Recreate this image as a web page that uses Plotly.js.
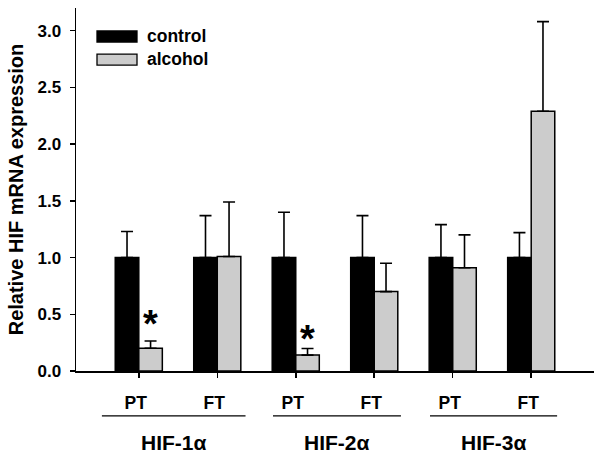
<!DOCTYPE html>
<html>
<head>
<meta charset="utf-8">
<script src="https://cdn.plot.ly/plotly-3.0.1.min.js"></script>
<style>html,body{margin:0;padding:0;background:#fff;}#chart{width:601px;height:461px;}</style>
</head>
<body>
<div id="chart"></div>
<script>
// ---- data ----
var tissueLabels = ["PT", "FT", "PT", "FT", "PT", "FT"];
var geneGroups = ["HIF-1α", "HIF-2α", "HIF-3α"];
var seriesNames = ["control", "alcohol"];
var controlValues = [1.00, 1.00, 1.00, 1.00, 1.00, 1.00];
var controlErr = [0.23, 0.37, 0.40, 0.37, 0.29, 0.22];
var alcoholValues = [0.20, 1.01, 0.14, 0.70, 0.91, 2.29];
var alcoholErr = [0.065, 0.48, 0.058, 0.25, 0.29, 0.79];
var significant = [true, false, true, false, false, false];
var yTicks = [0, 0.5, 1.0, 1.5, 2.0, 2.5, 3.0];

// ---- chart ----
var xIdx = tissueLabels.map(function (_, i) { return i; });
var FONT = "Liberation Sans, Arial, sans-serif";
var zeros = xIdx.map(function () { return 0; });

var traces = [
  {
    type: "bar", name: seriesNames[0], x: xIdx, y: controlValues,
    marker: {color: "#000000", line: {color: "#000000", width: 1.5}},
    error_y: {type: "data", array: controlErr, arrayminus: zeros, symmetric: false,
              color: "#000000", thickness: 1.6, width: 6},
    showlegend: false
  },
  {
    type: "bar", name: seriesNames[1], x: xIdx, y: alcoholValues,
    marker: {color: "#cccccc", line: {color: "#000000", width: 1.5}},
    error_y: {type: "data", array: alcoholErr, arrayminus: zeros, symmetric: false,
              color: "#000000", thickness: 1.6, width: 6},
    showlegend: false
  }
];

var L = 76, R = 7, T = 8, B = 90.3;
var W = 601, H = 461;
var plotW = W - L - R, plotH = H - T - B;
function px2paperX(px) { return (px - L) / plotW; }
function px2paperY(py) { return (H - B - py) / plotH; }

var shapes = [];
var annotations = [];

// custom legend (wide swatches)
var legendColors = ["#000000", "#cccccc"];
var legendTops = [31, 54];
seriesNames.forEach(function (nm, i) {
  shapes.push({
    type: "rect", xref: "paper", yref: "paper",
    x0: px2paperX(97), x1: px2paperX(137),
    y0: px2paperY(legendTops[i] + 11), y1: px2paperY(legendTops[i]),
    fillcolor: legendColors[i], line: {color: "#000000", width: 1.3}
  });
  annotations.push({
    xref: "paper", yref: "paper", x: px2paperX(145), y: px2paperY(legendTops[i] + 5),
    xanchor: "left", yanchor: "middle", showarrow: false,
    text: "<b>" + nm + "</b>", font: {family: FONT, size: 17.5, color: "#000"}
  });
});

// group underlines and labels
var groupSpans = [[-0.47, 1.36], [1.71, 3.34], [3.71, 5.33]];
geneGroups.forEach(function (g, i) {
  shapes.push({
    type: "line", xref: "x", yref: "paper",
    x0: groupSpans[i][0], x1: groupSpans[i][1],
    y0: px2paperY(415.5), y1: px2paperY(415.5),
    line: {color: "#000000", width: 1.3}
  });
  annotations.push({
    xref: "x", yref: "paper", x: (groupSpans[i][0] + groupSpans[i][1]) / 2,
    y: px2paperY(442), xanchor: "center", yanchor: "middle", showarrow: false,
    text: "<b>" + g + "</b>", font: {family: FONT, size: 21, color: "#000"}
  });
});

// significance asterisks
var starOffsets = [0.2, 0.135];
var sCount = 0;
significant.forEach(function (s, i) {
  if (!s) return;
  var off = starOffsets[sCount++] || 0.15;
  annotations.push({
    xref: "x", yref: "y", x: i + 0.15, y: alcoholValues[i] + alcoholErr[i] + off,
    xanchor: "center", yanchor: "middle", showarrow: false, yshift: -6,
    text: "<b>*</b>", font: {family: FONT, size: 38, color: "#000"}
  });
});

var layout = {
  width: W, height: H,
  margin: {l: L, r: R, t: T, b: B, pad: 0},
  paper_bgcolor: "#ffffff", plot_bgcolor: "#ffffff",
  barmode: "group", bargap: 0.4, bargroupgap: 0,
  showlegend: false,
  font: {family: FONT, color: "#000"},
  xaxis: {
    range: [-0.8, 5.8], tickmode: "array", tickvals: xIdx, ticktext: tissueLabels,
    ticks: "outside", ticklen: 5, tickwidth: 1.5, tickcolor: "#000",
    showline: true, linecolor: "#000", linewidth: 1.5,
    showgrid: false, zeroline: false,
    ticklabelstandoff: 10, ticklabelshift: -3,
    tickfont: {family: FONT, size: 17.5, color: "#000", weight: "bold"},
    fixedrange: true
  },
  yaxis: {
    range: [0, 3.2], tickmode: "array", tickvals: yTicks, tickformat: ".1f",
    ticks: "outside", ticklen: 5, tickwidth: 1.5, tickcolor: "#000",
    showline: true, linecolor: "#000", linewidth: 1.5,
    showgrid: false, zeroline: false,
    ticklabelstandoff: 5,
    tickfont: {family: FONT, size: 17, color: "#000", weight: "bold"},
    title: {text: "<b>Relative HIF mRNA expression</b>", standoff: 8,
            font: {family: FONT, size: 20, color: "#000"}},
    fixedrange: true
  },
  shapes: shapes,
  annotations: annotations
};

Plotly.newPlot("chart", traces, layout, {displayModeBar: false, staticPlot: true});
</script>
</body>
</html>
